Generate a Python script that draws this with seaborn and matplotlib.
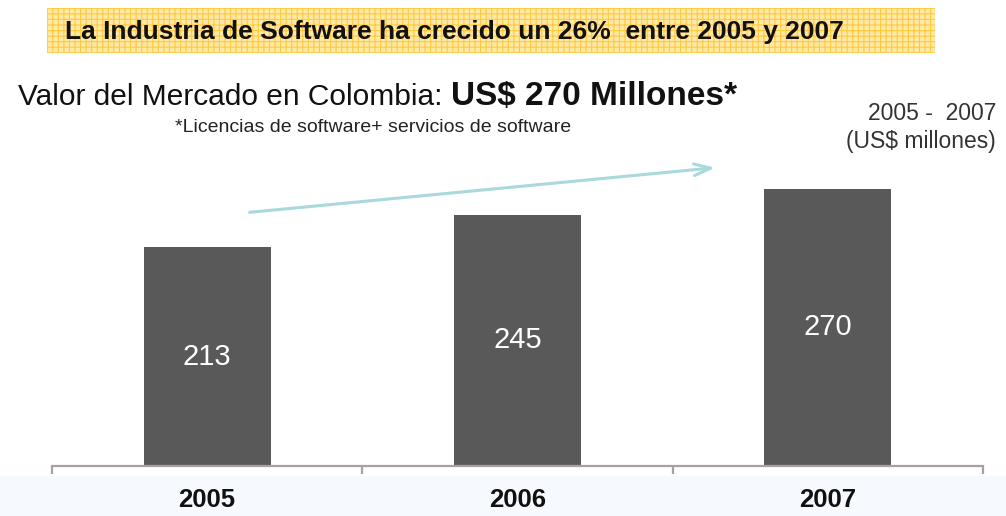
import matplotlib
matplotlib.use("Agg")
import matplotlib.pyplot as plt
from matplotlib.patches import Rectangle
import seaborn as sns
import pandas as pd

# Data
years = ["2005", "2006", "2007"]
values = [213, 245, 270]
headline = "La Industria de Software ha crecido un 26%  entre 2005 y 2007"
subtitle_plain = "Valor del Mercado en Colombia: "
subtitle_bold = "US$ 270 Millones*"
footnote = "*Licencias de software+ servicios de software"
period_note = "2005 -  2007\n(US$ millones)"

sns.set_theme(style="white")
plt.rcParams["font.family"] = ["Liberation Sans", "DejaVu Sans"]
plt.rcParams["hatch.linewidth"] = 0.8

W, H = 1006, 516
fig = plt.figure(figsize=(W / 100, H / 100), dpi=100)
fig.patch.set_facecolor("white")

# pale band under the axis
fig.add_artist(Rectangle((0, 0), 1, 40 / H, transform=fig.transFigure,
                         facecolor="#f6f9fd", edgecolor="none", zorder=0))

# headline banner with a checked fill
fig.add_artist(Rectangle((47 / W, 1 - 53 / H), 888 / W, 45 / H,
                         transform=fig.transFigure, facecolor="#ffe9a6",
                         edgecolor="#ffc940", linewidth=0, hatch="+++",
                         zorder=1))
fig.text(65 / W, 1 - 32 / H, headline, fontsize=19, fontweight="bold",
         color="#111111", va="center", ha="left", zorder=2)

ax = fig.add_axes([52 / W, 50 / H, 931 / W, 316 / H])
ax.set_facecolor("none")

df = pd.DataFrame({"year": years, "value": values})
sns.barplot(data=df, x="year", y="value", color="#595959", saturation=1,
            width=0.41, edgecolor="none", linewidth=0, ax=ax)

ax.set_xlim(-0.5, 2.5)
ax.set_ylim(0, 308)
ax.set_xlabel("")
ax.set_ylabel("")
ax.set_yticks([])
for s in ["left", "right", "top"]:
    ax.spines[s].set_visible(False)
ax.spines["bottom"].set_color("#a3a3a3")
ax.spines["bottom"].set_linewidth(1.6)

ax.set_xticks(range(len(years)))
ax.set_xticklabels(years, fontsize=18.5, fontweight="bold")
ax.tick_params(axis="x", which="major", bottom=False, length=0, pad=16,
               colors="#111111")
ax.set_xticks([i - 0.5 for i in range(len(years) + 1)], minor=True)
ax.tick_params(axis="x", which="minor", bottom=True, length=6, width=1.6,
               color="#a3a3a3", direction="out")

# values inside the bars
for i, v in enumerate(values):
    ax.text(i, v / 2, str(v), ha="center", va="center", color="white",
            fontsize=21)

# growth arrow
ax.annotate("", xy=(1.646, 291), xytext=(0.128, 247),
            arrowprops=dict(arrowstyle="->,head_length=1.0,head_width=0.35",
                            color="#a9d8dd", lw=2.2),
            annotation_clip=False)

# subtitle with bold amount
t1 = fig.text(18 / W, 1 - 105 / H, subtitle_plain, fontsize=21.5,
              color="#111111", va="baseline", ha="left")
renderer = fig.canvas.get_renderer()
x1 = t1.get_window_extent(renderer).x1
fig.text(x1 / W, 1 - 105 / H, subtitle_bold, fontsize=24, fontweight="bold",
         color="#111111", va="baseline", ha="left")

fig.text(175 / W, 1 - 132 / H, footnote, fontsize=14, color="#222222",
         va="baseline", ha="left")

fig.text(996 / W, 1 - 102 / H, period_note, fontsize=16.5, color="#333333",
         va="top", ha="right", multialignment="right", linespacing=1.3)

fig.savefig("out.png", dpi=100, facecolor="white")
